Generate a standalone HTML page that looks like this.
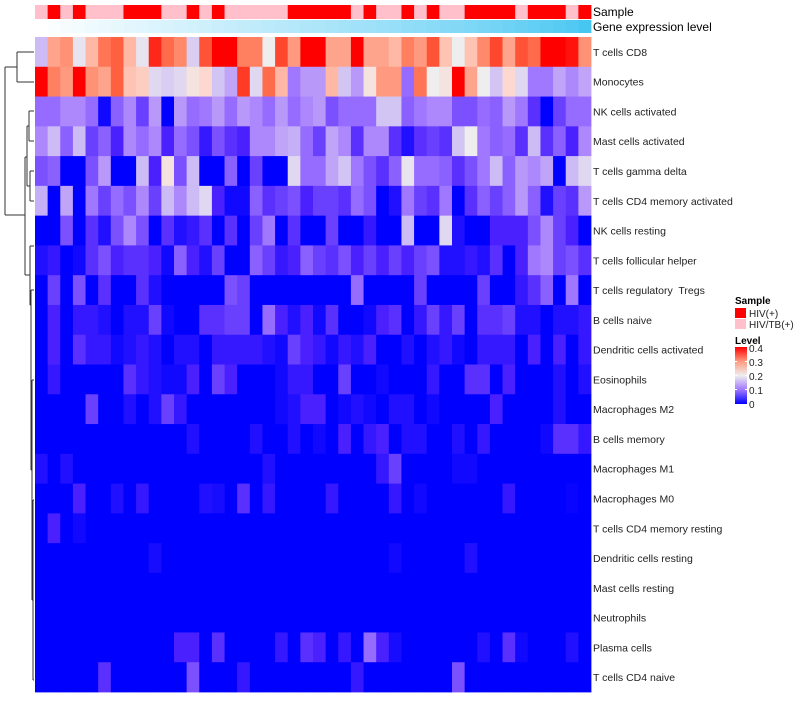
<!DOCTYPE html>
<html><head><meta charset="utf-8"><style>
body{margin:0;background:#fff;}
svg text{font-family:"Liberation Sans",sans-serif;}
#labels text{white-space:pre;}
</style></head><body>
<svg id="chart" width="800" height="700" xmlns="http://www.w3.org/2000/svg">
<rect width="800" height="700" fill="#fff"/>
<g id="dendro" stroke="#333" stroke-width="1" fill="none">
<path d="M5,67V215M5,67H17M17,52V82M17,52H34M17,82H34M5,215H25M25,157V275M25,157H27M27,126V186M27,126H29M29,111V141M29,111H34M29,141H34M27,186H30M30,171V201M30,171H34M30,201H34M25,275H30M30,246V305M30,246H34M30,305H31M31,290V470M31,290H34M31,470H32M32,380V600M32,380H34M32,600H33M33,500V680M33,500H34M33,680H34"/>
</g>
<g id="cells"></g>
<g id="annot"></g>
<g id="labels"></g>
<text x="593" y="16" font-size="12" fill="#000">Sample</text>
<text x="593" y="31" font-size="12" fill="#000">Gene expression level</text>
<g>
<text x="735" y="304" font-size="10" font-weight="bold">Sample</text>
<rect x="735" y="308" width="11" height="10" fill="#ff0000"/>
<text x="749" y="317" font-size="10" fill="#222">HIV(+)</text>
<rect x="735" y="319" width="11" height="10" fill="#ffc0cb"/>
<text x="749" y="328" font-size="10" fill="#222">HIV/TB(+)</text>
<text x="735" y="344" font-size="10" font-weight="bold">Level</text>
<defs><linearGradient id="lg" x1="0" y1="1" x2="0" y2="0">
<stop offset="0" stop-color="#0000ff"/><stop offset="0.25" stop-color="#a078ff"/><stop offset="0.5" stop-color="#eeeeee"/><stop offset="0.75" stop-color="#ff9a80"/><stop offset="1" stop-color="#ff0000"/></linearGradient></defs>
<rect x="735" y="347" width="12" height="57" fill="url(#lg)"/>
<g stroke="#fff" stroke-width="1"><path d="M735,361.5h2M745,361.5h2M735,375.5h2M745,375.5h2M735,389.5h2M745,389.5h2"/></g>
<text x="749" y="352" font-size="10" fill="#222">0.4</text>
<text x="749" y="366" font-size="10" fill="#222">0.3</text>
<text x="749" y="380" font-size="10" fill="#222">0.2</text>
<text x="749" y="394" font-size="10" fill="#222">0.1</text>
<text x="749" y="408" font-size="10" fill="#222">0</text>
</g>
</svg>
<script>
const rowNames=["T cells CD8","Monocytes","NK cells activated","Mast cells activated","T cells gamma delta","T cells CD4 memory activated","NK cells resting","T cells follicular helper","T cells regulatory  Tregs","B cells naive","Dendritic cells activated","Eosinophils","Macrophages M2","B cells memory","Macrophages M1","Macrophages M0","T cells CD4 memory resting","Dendritic cells resting","Mast cells resting","Neutrophils","Plasma cells","T cells CD4 naive"];
const sampleGroup=["P","R","P","R","P","P","P","R","R","R","P","P","R","P","R","P","P","P","P","P","R","R","R","R","R","P","R","P","P","R","P","R","P","P","R","R","R","R","P","R","R","R","P","R"];
const geneLevel=[0.0,0.02,0.05,0.07,0.09,0.11,0.13,0.15,0.17,0.19,0.21,0.23,0.25,0.27,0.29,0.31,0.33,0.35,0.37,0.39,0.41,0.43,0.45,0.47,0.49,0.51,0.53,0.55,0.57,0.6,0.62,0.64,0.66,0.68,0.71,0.73,0.76,0.79,0.82,0.85,0.88,0.91,0.95,1.0];
const r0=[0.15,0.27,0.29,0.19,0.25,0.32,0.34,0.25,0.19,0.38,0.33,0.30,0.17,0.35,0.45,0.45,0.31,0.31,0.2,0.36,0.28,0.45,0.45,0.27,0.27,0.45,0.27,0.27,0.25,0.31,0.28,0.35,0.24,0.2,0.24,0.3,0.36,0.27,0.35,0.33,0.45,0.45,0.39,0.29];
const r1=[0.45,0.31,0.28,0.45,0.29,0.27,0.34,0.24,0.23,0.18,0.17,0.18,0.21,0.22,0.16,0.13,0.37,0.18,0.33,0.25,0.1,0.12,0.12,0.25,0.16,0.12,0.21,0.28,0.28,0.09,0.32,0.2,0.21,0.45,0.27,0.2,0.16,0.22,0.18,0.1,0.1,0.13,0.11,0.13];
const r2=[0.09,0.09,0.11,0.11,0.09,0.01,0.08,0.11,0.06,0.12,0,0.12,0.09,0.1,0.12,0.09,0.12,0.11,0.09,0.12,0.09,0.11,0.12,0.07,0.09,0.09,0.09,0.16,0.16,0.08,0.1,0.11,0.11,0.07,0.07,0.09,0.08,0.12,0.1,0.05,0,0.06,0.09,0.09];
const r3=[0.11,0.15,0.08,0.15,0.06,0.08,0.04,0.11,0.09,0.11,0.04,0.09,0.07,0.03,0.07,0.05,0.04,0.11,0.11,0.13,0.14,0.09,0.06,0.13,0.11,0.05,0.11,0.11,0.05,0.02,0.05,0.06,0.05,0.16,0.2,0.1,0.08,0.09,0.05,0.15,0.05,0.08,0.04,0.11];
const r4=[0.07,0.08,0,0,0.07,0.12,0,0,0.15,0.04,0.21,0.07,0.15,0,0,0.08,0,0.06,0,0,0.18,0.09,0.09,0.13,0.16,0.1,0.07,0.05,0.08,0.19,0.09,0.09,0.08,0.05,0.07,0.1,0.15,0.08,0.12,0.11,0.13,0,0.15,0.18];
const r5=[0.14,0,0.13,0,0.1,0.06,0.09,0.07,0.11,0.06,0.15,0.11,0.15,0.18,0.04,0.01,0.01,0.08,0.05,0.06,0.07,0.04,0.06,0.06,0.05,0.09,0.07,0,0.02,0.1,0.06,0.05,0.1,0,0.05,0.08,0.06,0.08,0.12,0.08,0.02,0.06,0.05,0.12];
const r6=[0,0,0.07,0,0.05,0.02,0.07,0.11,0.07,0,0.05,0.02,0.03,0.05,0,0.05,0,0.06,0.1,0,0.05,0,0,0.06,0,0,0.03,0,0,0.15,0,0,0.18,0.02,0,0,0.04,0.04,0.04,0.07,0.11,0.06,0.04,0];
const r7=[0.02,0.03,0,0.01,0.05,0.07,0.04,0.05,0.05,0.04,0.01,0.08,0.04,0.02,0.06,0,0,0.08,0.06,0.03,0.04,0.08,0.06,0.05,0.07,0.04,0.06,0.04,0.06,0.04,0.06,0.07,0.02,0.02,0.03,0.02,0.05,0,0.04,0.1,0.11,0.06,0.07,0.05];
const r8=[0,0.06,0,0.07,0,0.05,0,0,0.05,0.02,0,0,0,0,0,0.07,0.06,0,0,0,0,0,0,0,0,0.09,0,0,0,0,0.06,0,0,0,0,0.06,0,0,0.03,0.05,0.08,0,0.1,0];
const r9=[0,0.04,0,0.03,0.03,0.02,0,0.02,0.02,0.06,0.01,0,0,0.05,0.05,0.06,0.06,0,0.09,0.04,0.02,0.04,0.01,0.05,0,0,0.01,0.04,0.05,0,0.03,0.06,0.03,0.06,0,0.05,0.05,0.06,0.02,0.02,0,0.02,0.02,0.03];
const r10=[0,0.04,0,0.05,0.03,0.03,0.01,0.02,0.03,0.02,0,0.02,0.02,0,0.03,0.03,0.03,0.03,0.02,0.01,0.06,0.04,0.03,0.01,0.03,0.02,0.04,0,0,0.02,0,0.02,0.03,0.01,0,0.03,0.03,0.03,0,0.04,0,0.04,0,0.03];
const r11=[0,0.03,0,0,0,0,0,0.05,0.03,0.02,0.01,0.01,0.04,0,0.06,0.04,0,0,0,0.01,0.03,0.03,0,0,0.06,0,0,0.01,0,0,0,0.03,0,0,0.05,0.05,0,0.04,0,0,0,0.02,0,0.02];
const r12=[0,0,0,0,0.06,0,0,0.02,0,0.02,0.06,0.03,0,0,0,0,0,0,0,0.01,0.02,0.04,0.04,0,0.01,0.02,0.01,0,0.02,0.02,0,0.01,0,0,0,0,0.04,0,0,0,0,0.02,0,0];
const r13=[0,0,0,0,0,0,0,0,0,0,0,0,0.02,0,0,0,0,0.02,0,0,0.02,0,0.01,0,0.04,0,0.03,0.04,0,0.02,0.02,0,0,0.02,0,0.03,0,0,0,0,0.01,0.05,0.05,0.03];
const r14=[0.02,0,0.02,0,0,0,0,0,0,0,0,0,0,0,0,0,0,0,0.02,0,0,0,0,0,0,0,0,0.03,0.06,0,0,0,0,0.01,0.01,0,0,0,0,0,0,0,0,0];
const r15=[0,0,0,0.04,0,0,0.02,0,0.03,0,0,0,0,0.02,0.015,0,0.05,0,0.03,0,0,0,0,0.03,0,0,0,0,0.03,0,0.01,0,0,0,0,0,0,0.03,0,0,0,0,0.005,0];
const r16=[0,0.04,0,0.01,0,0,0,0,0,0,0,0,0,0,0,0,0,0,0,0,0,0,0,0,0,0,0,0,0,0,0,0,0,0,0,0,0,0,0,0,0,0,0,0];
const r17=[0,0,0,0,0,0,0,0,0,0.015,0,0,0,0,0,0,0,0,0,0,0,0,0,0,0,0,0,0,0.01,0,0,0,0,0,0.02,0,0,0,0,0,0,0,0,0];
const r18=[0,0,0,0,0,0,0,0,0,0,0,0,0,0,0,0,0,0,0,0,0,0,0,0,0,0,0,0,0,0,0,0,0,0,0,0,0,0,0,0,0,0,0,0];
const r19=[0,0,0,0,0,0,0,0,0,0,0,0,0,0,0,0,0,0,0,0,0,0,0,0,0,0,0,0,0,0,0,0,0,0,0,0,0,0,0,0,0,0,0,0];
const r20=[0,0,0,0,0,0,0,0,0,0,0,0.04,0.04,0,0.05,0,0,0,0,0.03,0,0.05,0.04,0,0.03,0,0.09,0.04,0.015,0,0,0,0,0,0,0.02,0,0.05,0.01,0,0,0,0.02,0];
const r21=[0,0,0,0,0,0.05,0,0,0,0,0,0,0.07,0,0,0,0.03,0,0,0,0,0,0,0,0,0.03,0,0,0,0,0,0,0,0.07,0,0,0,0,0,0,0,0,0,0];
const values=[r0,r1,r2,r3,r4,r5,r6,r7,r8,r9,r10,r11,r12,r13,r14,r15,r16,r17,r18,r19,r20,r21];

const X0=35,X1=591,Y0=37,Y1=692;
const nCol=sampleGroup.length,nRow=rowNames.length;
const cw=(X1-X0)/nCol,rh=(Y1-Y0)/nRow;
const xPos=i=>X0+i*cw, yPos=j=>Y0+j*rh;
const stops=[[0,"#0000ff"],[0.02,"#2010ff"],[0.04,"#4a20ff"],[0.06,"#6a40ff"],[0.08,"#8a60ff"],[0.1,"#a078ff"],[0.12,"#b898f8"],[0.15,"#ccbbf5"],[0.18,"#e0d8f0"],[0.2,"#eeeeee"],[0.22,"#fcd8d0"],[0.25,"#ffb8a5"],[0.28,"#ff9a80"],[0.31,"#ff8060"],[0.34,"#ff6040"],[0.37,"#ff3a25"],[0.4,"#ff0000"]];
function hex(c){return [1,3,5].map(k=>parseInt(c.substr(k,2),16));}
function col(v){
  if(v<=0)return stops[0][1]; if(v>=0.4)return "#ff0000";
  for(let k=1;k<stops.length;k++){if(v<=stops[k][0]){const a=stops[k-1],b=stops[k];const t=(v-a[0])/(b[0]-a[0]);const ca=hex(a[1]),cb=hex(b[1]);return "rgb("+ca.map((q,i)=>Math.round(q+(cb[i]-q)*t)).join(",")+")";}}
}
function geneCol(v){const a=[255,255,255],b=[72,198,242];return "rgb("+a.map((q,i)=>Math.round(q+(b[i]-q)*v)).join(",")+")";}
const NS="http://www.w3.org/2000/svg";
const cells=document.getElementById("cells"),annot=document.getElementById("annot"),labels=document.getElementById("labels");
for(let j=0;j<nRow;j++){
  for(let i=0;i<nCol;i++){
    const r=document.createElementNS(NS,"rect");
    r.setAttribute("x",xPos(i));r.setAttribute("y",yPos(j));
    r.setAttribute("width",cw+0.4);r.setAttribute("height",rh+0.4);
    r.setAttribute("fill",col(values[j][i]));
    
    
    cells.appendChild(r);
  }
  const t=document.createElementNS(NS,"text");
  t.setAttribute("x",593);t.setAttribute("y",yPos(j)+rh/2+4);
  t.setAttribute("font-size","10.5");t.setAttribute("fill","#222");
  t.textContent=rowNames[j];
  
  
  labels.appendChild(t);
}
for(let i=0;i<nCol;i++){
  const s=document.createElementNS(NS,"rect");
  s.setAttribute("x",xPos(i));s.setAttribute("y",5);s.setAttribute("width",cw+0.4);s.setAttribute("height",14);
  s.setAttribute("fill",sampleGroup[i]==="R"?"#ff0000":"#ffc0cb");
  
  
  annot.appendChild(s);
  const g=document.createElementNS(NS,"rect");
  g.setAttribute("x",xPos(i));g.setAttribute("y",20);g.setAttribute("width",cw+0.4);g.setAttribute("height",13);
  g.setAttribute("fill",geneCol(geneLevel[i]));
  
  
  annot.appendChild(g);
}
</script>
</body></html>
